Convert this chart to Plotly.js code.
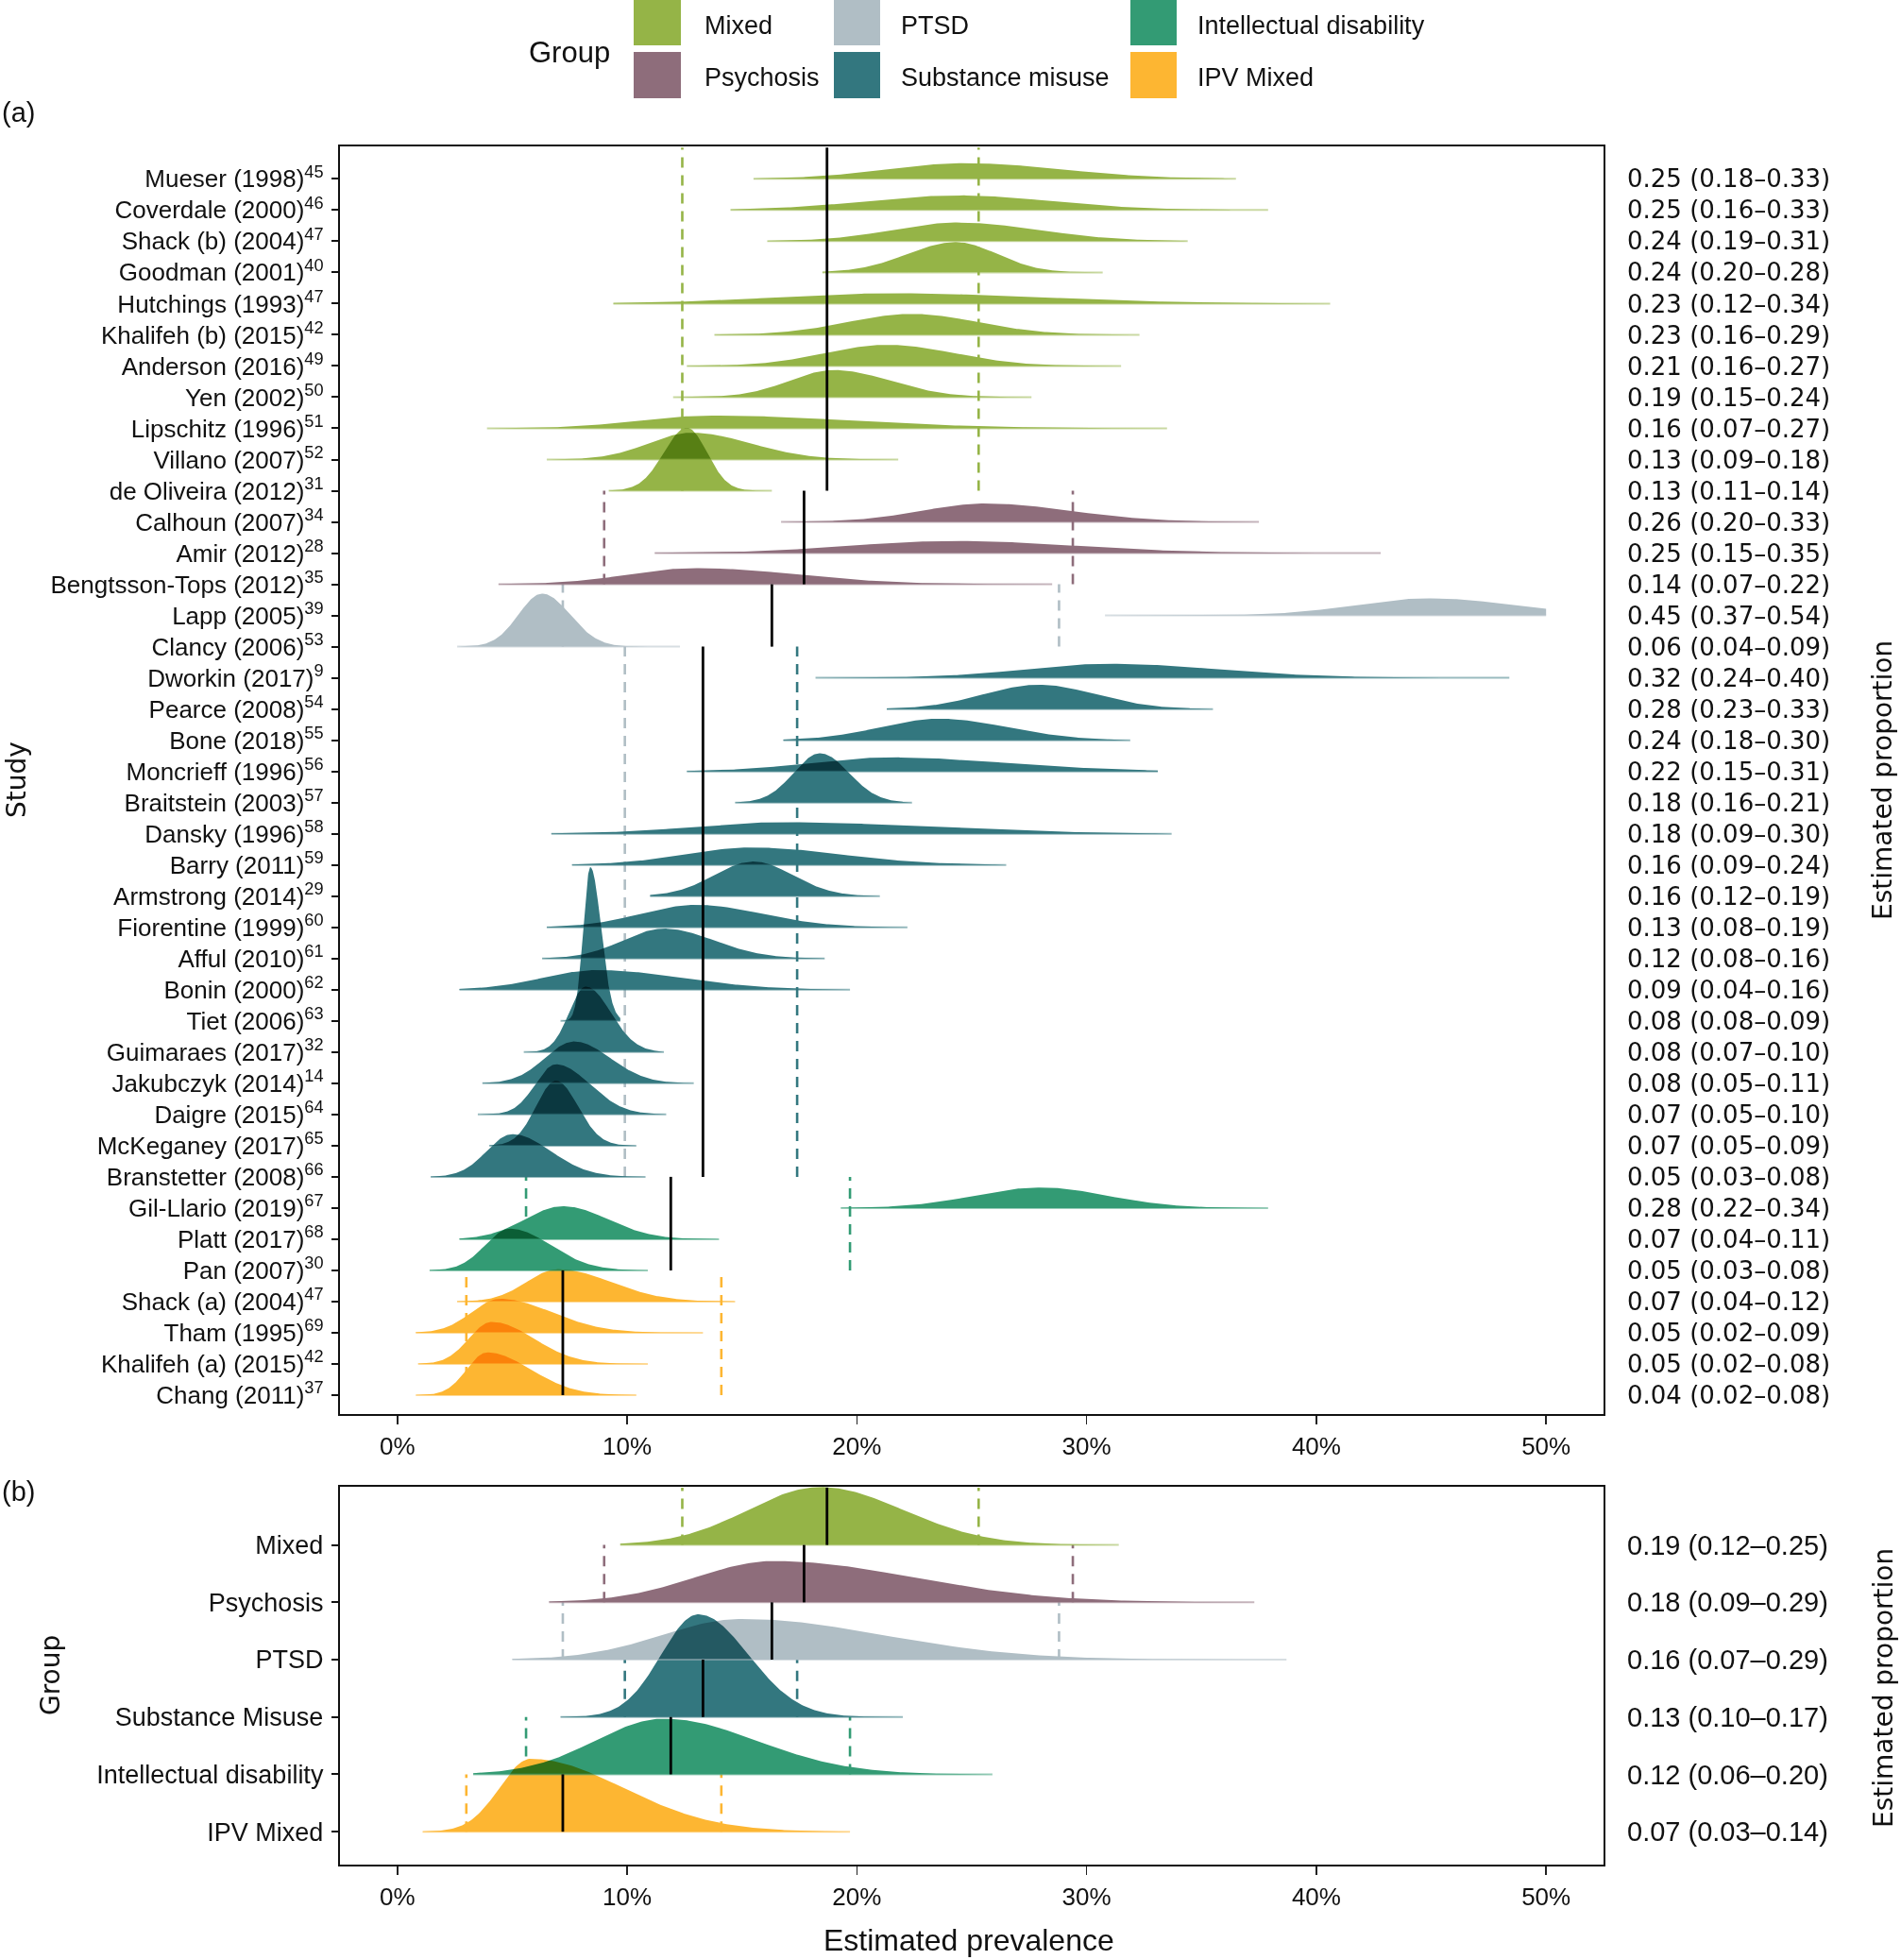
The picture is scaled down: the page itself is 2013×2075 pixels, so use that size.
<!DOCTYPE html>
<html><head><meta charset="utf-8">
<script src="https://cdn.plot.ly/plotly-3.0.1.min.js"></script>
<style>
html,body{margin:0;padding:0;background:#fff;}
#chart{width:2013px;height:2075px;}
.scatterlayer{isolation:isolate;}
.scatterlayer .js-fill{mix-blend-mode:multiply;}
</style></head><body><div id="chart"></div>
<script>
// ---------------- DATA ----------------
const studyNames = ['Mueser (1998)','Coverdale (2000)','Shack (b) (2004)','Goodman (2001)','Hutchings (1993)','Khalifeh (b) (2015)','Anderson (2016)','Yen (2002)','Lipschitz (1996)','Villano (2007)','de Oliveira (2012)',
 'Calhoun (2007)','Amir (2012)','Bengtsson-Tops (2012)',
 'Lapp (2005)','Clancy (2006)',
 'Dworkin (2017)','Pearce (2008)','Bone (2018)','Moncrieff (1996)','Braitstein (2003)','Dansky (1996)','Barry (2011)','Armstrong (2014)','Fiorentine (1999)','Afful (2010)','Bonin (2000)','Tiet (2006)','Guimaraes (2017)','Jakubczyk (2014)','Daigre (2015)','McKeganey (2017)','Branstetter (2008)',
 'Gil-Llario (2019)','Platt (2017)','Pan (2007)',
 'Shack (a) (2004)','Tham (1995)','Khalifeh (a) (2015)','Chang (2011)'];
const studyRefs = ['45','46','47','40','47','42','49','50','51','52','31','34','28','35','39','53','9','54','55','56','57','58','59','29','60','61','62','63','32','14','64','65','66','67','68','30','47','69','42','37'];
const studyGroup = ['Mixed','Mixed','Mixed','Mixed','Mixed','Mixed','Mixed','Mixed','Mixed','Mixed','Mixed',
 'Psychosis','Psychosis','Psychosis','PTSD','PTSD',
 'Substance misuse','Substance misuse','Substance misuse','Substance misuse','Substance misuse','Substance misuse','Substance misuse','Substance misuse','Substance misuse','Substance misuse','Substance misuse','Substance misuse','Substance misuse','Substance misuse','Substance misuse','Substance misuse','Substance misuse',
 'Intellectual disability','Intellectual disability','Intellectual disability',
 'IPV Mixed','IPV Mixed','IPV Mixed','IPV Mixed'];
const studyEst = [0.25,0.25,0.24,0.24,0.23,0.23,0.21,0.19,0.16,0.13,0.13, 0.26,0.25,0.14, 0.45,0.06, 0.32,0.28,0.24,0.22,0.18,0.18,0.16,0.16,0.13,0.12,0.09,0.08,0.08,0.08,0.07,0.07,0.05, 0.28,0.07,0.05, 0.07,0.05,0.05,0.04];
const studyLo  = [0.18,0.16,0.19,0.20,0.12,0.16,0.16,0.15,0.07,0.09,0.11, 0.20,0.15,0.07, 0.37,0.04, 0.24,0.23,0.18,0.15,0.16,0.09,0.09,0.12,0.08,0.08,0.04,0.08,0.07,0.05,0.05,0.05,0.03, 0.22,0.04,0.03, 0.04,0.02,0.02,0.02];
const studyHi  = [0.33,0.33,0.31,0.28,0.34,0.29,0.27,0.24,0.27,0.18,0.14, 0.33,0.35,0.22, 0.54,0.09, 0.40,0.33,0.30,0.31,0.21,0.30,0.24,0.19,0.19,0.16,0.16,0.09,0.10,0.11,0.10,0.09,0.08, 0.34,0.11,0.08, 0.12,0.09,0.08,0.08];
// plotted density: peak location, peak height (in rows), and extent of the posterior draws
const studyMode = [0.247,0.244,0.244,0.243,0.215,0.224,0.213,0.190,0.137,0.128,0.126, 0.256,0.242,0.130, 0.449,0.063, 0.310,0.279,0.236,0.214,0.184,0.168,0.154,0.155,0.130,0.116,0.087,0.084,0.082,0.077,0.069,0.069,0.050, 0.280,0.072,0.049, 0.070,0.0445,0.041,0.039];
const studyPeak = [0.50,0.47,0.60,0.97,0.33,0.67,0.68,0.87,0.41,0.86,2.02, 0.59,0.39,0.52, 0.55,1.70, 0.45,0.78,0.69,0.45,1.58,0.37,0.56,1.11,0.72,0.96,0.63,4.93,2.10,1.34,1.61,2.08,1.37, 0.66,1.06,1.34, 1.04,1.09,1.35,1.37];
const studyMin = [0.155,0.145,0.161,0.185,0.094,0.138,0.126,0.120,0.039,0.065,0.092, 0.167,0.112,0.044, 0.308,0.026, 0.182,0.213,0.168,0.126,0.147,0.067,0.076,0.110,0.065,0.063,0.027,0.071,0.055,0.037,0.035,0.040,0.0145, 0.193,0.027,0.014, 0.026,0.008,0.009,0.008];
const studyMax = [0.365,0.379,0.344,0.307,0.406,0.323,0.315,0.276,0.335,0.218,0.163, 0.375,0.428,0.285, 0.500,0.123, 0.484,0.355,0.319,0.331,0.224,0.337,0.265,0.210,0.222,0.186,0.197,0.097,0.116,0.129,0.117,0.104,0.108, 0.379,0.140,0.109, 0.147,0.133,0.109,0.104];

const groupNames  = ['Mixed','Psychosis','PTSD','Substance misuse','Intellectual disability','IPV Mixed'];
const groupLabels = ['Mixed','Psychosis','PTSD','Substance Misuse','Intellectual disability','IPV Mixed'];
const groupEst = [0.187,0.177,0.163,0.133,0.119,0.072];
const groupLo  = [0.124,0.090,0.072,0.099,0.056,0.030];
const groupHi  = [0.253,0.294,0.288,0.174,0.197,0.141];
const groupMode = [0.184,0.164,0.150,0.131,0.116,0.058];
const groupPeak = [1.01,0.72,0.71,1.79,0.97,1.27];
const groupMin  = [0.097,0.066,0.050,0.071,0.033,0.011];
const groupMax  = [0.314,0.373,0.387,0.220,0.259,0.197];

const xTickVals = [0,0.1,0.2,0.3,0.4,0.5];

// ---------------- STYLE ----------------
const groupColors = {'Mixed':'#95B447','Psychosis':'#8E6D7B','PTSD':'#B0BEC5','Substance misuse':'#33777F','Intellectual disability':'#339B74','IPV Mixed':'#FDB632'};
const loDashOverrideA = {'Substance misuse':'#B0BEC5'};
const FONT = 'Liberation Sans, Arial, sans-serif';
const WIDE = 'DejaVu Sans, Verdana, sans-serif';
const KA = 0.038, KB = 0.068; // density scale (row units)
const DASH = '11px,8px';

function rgba(hex,a){const n=parseInt(hex.slice(1),16);return `rgba(${n>>16},${(n>>8)&255},${n&255},${a})`;}
function fmt(v){return v.toFixed(2);}

const fills=[], bases=[];
function ridge(xmin,xmax,mode,lo,hi,peak,K,row,color,xa,ya){
  const sum=K/peak;
  let f=(mode-lo)/(hi-lo); f=Math.min(Math.max(f,0.15),0.85);
  const sl=sum*f, sr=sum*(1-f);
  const xs=[],ys=[],N=260;
  for(let i=0;i<=N;i++){const x=xmin+(xmax-xmin)*i/N;const s=x<mode?sl:sr;xs.push(x);ys.push(row+peak*Math.exp(-0.5*Math.pow((x-mode)/s,2)));}
  xs.push(xmax,xmin);ys.push(row,row);
  fills.push({type:'scatter',mode:'lines',x:xs,y:ys,fill:'toself',fillcolor:color,line:{width:0},xaxis:xa,yaxis:ya,hoverinfo:'skip',showlegend:false});
  bases.push({type:'scatter',mode:'lines',x:[xmin,xmax],y:[row,row],line:{color:rgba(color,0.5),width:2},xaxis:xa,yaxis:ya,hoverinfo:'skip',showlegend:false});
}

const nS=studyNames.length;
const rowsA=studyNames.map((_,i)=>nS-1-i);
studyNames.forEach((_,i)=>ridge(studyMin[i],studyMax[i],studyMode[i],studyLo[i],studyHi[i],studyPeak[i],KA,rowsA[i],groupColors[studyGroup[i]],'x','y'));
const nG=groupNames.length;
const rowsB=groupNames.map((_,i)=>nG-1-i);
groupNames.forEach((g,i)=>ridge(groupMin[i],groupMax[i],groupMode[i],groupLo[i],groupHi[i],groupPeak[i],KB,rowsB[i],groupColors[g],'x2','y2'));

const traces=[...fills,...bases,
 {type:'scatter',x:[],y:[],xaxis:'x',yaxis:'y3',showlegend:false,hoverinfo:'skip'},
 {type:'scatter',x:[],y:[],xaxis:'x2',yaxis:'y4',showlegend:false,hoverinfo:'skip'}];

// reference lines
const shapes=[];
function vline(x,y0,y1,color,dash,xa,ya,layer,w){shapes.push({type:'line',xref:xa,yref:ya,x0:x,x1:x,y0:y0,y1:y1,line:{color:color,width:w,dash:dash},layer:layer});}
groupNames.forEach((g,gi)=>{
  const idx=studyGroup.map((s,i)=>s===g?i:-1).filter(i=>i>=0);
  const yTop=rowsA[idx[0]]+1, yBot=rowsA[idx[idx.length-1]];
  const c=groupColors[g];
  vline(groupLo[gi],yBot,yTop,loDashOverrideA[g]||c,DASH,'x','y','below',2.6);
  vline(groupHi[gi],yBot,yTop,c,DASH,'x','y','below',2.6);
  vline(groupEst[gi],yBot,yTop,'#000','solid','x','y','above',2.8);
  const r=rowsB[gi];
  vline(groupLo[gi],r,r+1,c,DASH,'x2','y2','below',2.6);
  vline(groupHi[gi],r,r+1,c,DASH,'x2','y2','below',2.6);
  vline(groupEst[gi],r,r+1,'#000','solid','x2','y2','above',2.8);
});

// pixel -> paper helpers for legend / titles
const L=360,R=1698,T=155,B=1974;
const PX=x=>(x-L)/(R-L), PY=y=>(B-y)/(B-T);
const annotations=[];
function ann(text,px,py,opt){annotations.push(Object.assign({text:text,xref:'paper',yref:'paper',x:PX(px),y:PY(py),showarrow:false,font:{family:FONT,size:27,color:'#111'}},opt));}
// legend
const legCols=[[671,721,744],[883,932,952],[1197,1246,1266]];
const legRows=[[0,48],[55,104]];
groupNames.forEach((g,i)=>{
  const c=legCols[Math.floor(i/2)], r=legRows[i%2];
  shapes.push({type:'rect',xref:'paper',yref:'paper',x0:PX(c[0]),x1:PX(c[1]),y0:PY(r[1]),y1:PY(r[0]),fillcolor:groupColors[g],line:{width:0},layer:'above'});
  ann(g,c[2],(r[0]+r[1])/2+3,{xanchor:'left',yanchor:'middle'});
});
ann('Group',558,55,{xanchor:'left',yanchor:'middle',font:{family:FONT,size:31,color:'#111'}});
ann('(a)',0,119,{xanchor:'left',yanchor:'middle',font:{family:FONT,size:29,color:'#111'}});
ann('(b)',0,1579,{xanchor:'left',yanchor:'middle',font:{family:FONT,size:29,color:'#111'}});
ann('Study',18,826,{xanchor:'center',yanchor:'middle',textangle:-90,font:{family:WIDE,size:28,color:'#111'}});
ann('Group',53,1774,{xanchor:'center',yanchor:'middle',textangle:-90,font:{family:WIDE,size:28,color:'#111'}});
ann('Estimated proportion',1994,826,{xanchor:'center',yanchor:'middle',textangle:-90,font:{family:WIDE,size:28,color:'#111'}});
ann('Estimated proportion',1994,1787,{xanchor:'center',yanchor:'middle',textangle:-90,font:{family:WIDE,size:28,color:'#111'}});
ann('Estimated prevalence',1026,2054,{xanchor:'center',yanchor:'middle',font:{family:FONT,size:32,color:'#111'}});

const frame={showline:true,mirror:true,linewidth:2.2,linecolor:'#111',showgrid:false,zeroline:false};
const xax=Object.assign({range:[-0.025,0.525],tickvals:xTickVals,tickformat:'.0%',ticks:'outside',ticklen:9,tickwidth:1.5,tickcolor:'#222',tickfont:{size:26,family:FONT,color:'#111'},ticklabelstandoff:1},frame);
const layout={
  width:2013,height:2075,paper_bgcolor:'#fff',plot_bgcolor:'#fff',
  margin:{l:L,r:2013-R,t:T,b:2075-B},showlegend:false,
  font:{family:FONT,color:'#111',size:26},
  xaxis:Object.assign({},xax,{domain:[0,1],anchor:'y'}),
  xaxis2:Object.assign({},xax,{domain:[0,1],anchor:'y2'}),
  yaxis:Object.assign({domain:[PY(1497),1],anchor:'x',range:[-0.605,40.04],tickvals:rowsA,ticktext:studyNames.map((n,i)=>`${n}<sup>${studyRefs[i]}</sup>`),ticks:'outside',ticklen:7,tickwidth:2,tickcolor:'#111',tickfont:{size:26,family:FONT,color:'#111'},ticklabelstandoff:3},frame),
  yaxis2:Object.assign({domain:[0,PY(1574)],anchor:'x2',range:[-0.574,6.015],tickvals:rowsB,ticktext:groupLabels,ticks:'outside',ticklen:7,tickwidth:2,tickcolor:'#111',tickfont:{size:27,family:FONT,color:'#111'},ticklabelstandoff:3},frame),
  yaxis3:{overlaying:'y',side:'right',anchor:'x',range:[-0.605,40.04],tickvals:rowsA,ticktext:studyNames.map((_,i)=>`${fmt(studyEst[i])} (${fmt(studyLo[i])}–${fmt(studyHi[i])})`),ticks:'',showline:false,showgrid:false,zeroline:false,tickfont:{family:WIDE,size:26,color:'#111'},ticklabelstandoff:24},
  yaxis4:{overlaying:'y2',side:'right',anchor:'x2',range:[-0.574,6.015],tickvals:rowsB,ticktext:groupNames.map((_,i)=>`${fmt(groupEst[i])} (${fmt(groupLo[i])}–${fmt(groupHi[i])})`),ticks:'',showline:false,showgrid:false,zeroline:false,tickfont:{family:FONT,size:29,color:'#111'},ticklabelstandoff:24},
  shapes:shapes,annotations:annotations
};
Plotly.newPlot('chart',traces,layout,{staticPlot:true});
</script></body></html>
